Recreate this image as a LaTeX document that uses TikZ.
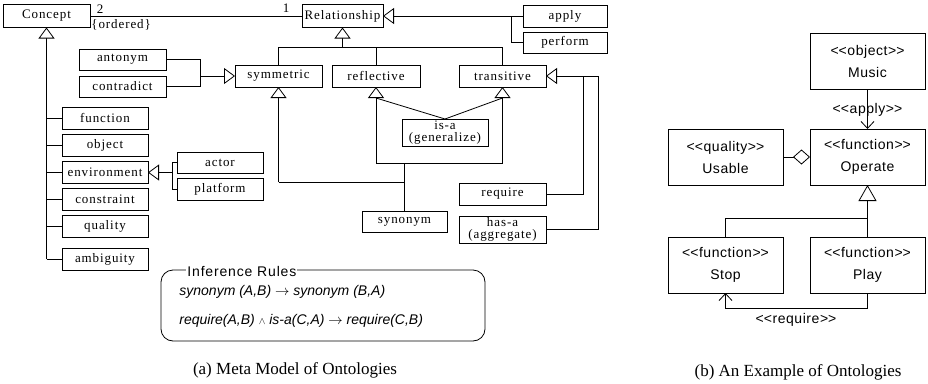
\documentclass[tikz,border=0pt]{standalone}
\usepackage{fontspec}
\setmainfont{Liberation Serif}
\newfontfamily\boxfont[LetterSpace=7]{Liberation Serif}
\newfontfamily\uisans[LetterSpace=4]{Liberation Sans}
\newfontfamily\rulesans{Liberation Sans}
\newfontfamily\titlesans[LetterSpace=6]{Liberation Sans}
\usetikzlibrary{arrows.meta,calc}

\newcommand\boxtext{\boxfont\fontsize{13}{12.5}\selectfont}
\newcommand\uitext{\uisans\fontsize{14}{22}\selectfont}
\newcommand\stereo[1]{<\kern0pt<#1>\kern0pt>}

\tikzset{
  cls/.style={draw, line width=0.8pt, inner sep=0pt, outer sep=0pt,
    font=\boxtext, align=center, minimum width=86pt, minimum height=22pt},
  ucls/.style={draw, line width=0.8pt, inner sep=0pt, outer sep=0pt,
    font=\uitext, align=center, minimum width=115pt, minimum height=56pt},
  gen/.style={-{Triangle[length=11pt,width=16pt,fill=white]}},
  biggen/.style={-{Triangle[length=16pt,width=18pt,fill=white]}},
  dep/.style={-{Straight Barb[length=7pt,width=13pt]}},
  agg/.style={-{Diamond[length=17pt,width=15pt,fill=white]}},
  caption/.style={font=\fontsize{17}{17}\selectfont},
}

\begin{document}
\begin{tikzpicture}[x=1pt,y=-1pt,line width=0.8pt]
\useasboundingbox (0,0) rectangle (928,383);

% ---------- meta model ----------
\node[cls, minimum width=87pt, minimum height=23pt] (concept) at (46.5,16) {Concept};
\node[cls, minimum width=81pt, minimum height=23pt] (relationship) at (342.5,16) {Relationship};
\node[cls, minimum width=84pt] (apply) at (565,16) {apply};
\node[cls, minimum width=84pt, minimum height=21pt] (perform) at (565,42.5) {perform};

\node[cls, minimum width=87pt, minimum height=21pt] (antonym) at (122.5,59.5) {antonym};
\node[cls, minimum width=87pt, minimum height=21pt] (contradict) at (122.5,86.5) {contradict};

\node[cls, minimum width=87pt] (symmetric) at (278.5,76) {symmetric};
\node[cls, minimum width=88pt] (reflective) at (376,76) {reflective};
\node[cls, minimum width=87pt] (transitive) at (502.5,76) {transitive};

\node[cls, minimum height=27pt] (isa) at (445,132.5) {is-a\\(generalize)};
\node[cls, minimum width=85pt, minimum height=21pt] (synonym) at (404.5,221.5) {synonym};
\node[cls, minimum width=87pt] (require) at (502.5,194) {require};
\node[cls, minimum width=87pt, minimum height=27pt] (hasa) at (502.5,229.5) {has-a\\(aggregate)};

\node[cls] (function) at (105,118) {function};
\node[cls] (object) at (105,145.5) {object};
\node[cls] (environment) at (105,172.5) {environment};
\node[cls] (constraint) at (105,199.5) {constraint};
\node[cls] (quality) at (105,226.5) {quality};
\node[cls] (ambiguity) at (105,259) {ambiguity};
\node[cls, minimum height=21pt] (actor) at (220,162.5) {actor};
\node[cls] (platform) at (220,189) {platform};

% association Concept -- Relationship
\draw (concept.east) -- (relationship.west);
\node[font=\boxtext] (m2) at (100,9) {2};
\node[font=\boxtext, anchor=west, inner sep=0pt] (ord) at (91,25) {\{ordered\}};
\node[font=\boxtext] (m1) at (286,8) {1};

% Concept generalisations
\coordinate (cj) at (46.5,0);
\draw[gen] (cj |- ambiguity.west) -- (concept.south);
\foreach \n in {function,object,environment,constraint,quality,ambiguity}
  \draw (cj |- \n.west) -- (\n.west);

% environment
\coordinate (ej) at (172,0);
\draw (actor.west) -| (ej |- platform.west) -- (platform.west);
\draw[gen] (ej |- environment.east) -- (environment.east);

% apply / perform
\coordinate (aj) at (511,0);
\draw[gen] (aj |- apply.west) -- (relationship.east);
\draw (apply.west) -- (aj |- apply.west) |- (perform.west);

% Relationship subtypes
\coordinate (rj) at (0,47);
\draw[gen] (relationship.south |- rj) -- (relationship.south);
\draw (symmetric.north) |- (transitive.north |- rj) -- (transitive.north);
\draw (reflective.north) -- (reflective.north |- rj);

% antonym / contradict
\coordinate (sj) at (200,0);
\draw (antonym.east) -| (sj |- contradict.east) -- (contradict.east);
\draw[gen] (sj |- symmetric.west) -- (symmetric.west);

% synonym
\coordinate (yj) at (0,182);
\coordinate (tj) at (0,163);
\draw[gen] (symmetric.south |- yj) -- (symmetric.south);
\draw (symmetric.south |- yj) -- (synonym.north |- yj);
\draw (isa.north) -- ([yshift=-11pt]reflective.south);
\draw (isa.north) -- ([yshift=-11pt]transitive.south);
\draw[gen] (reflective.south |- tj) -- (reflective.south);
\draw[gen] (transitive.south |- tj) -- (transitive.south);
\draw (reflective.south |- tj) -- (transitive.south |- tj);
\draw (synonym.north) -- (synonym.north |- tj);

% require / has-a
\coordinate (qj) at (583,0);
\coordinate (hj) at (598,0);
\draw[gen] (hj |- transitive.east) -- (transitive.east);
\draw (require.east) -| (qj |- transitive.east);
\draw (hasa.east) -| (hj |- transitive.east);

% inference rules
\node[draw, rounded corners=12pt, minimum width=324pt, minimum height=71pt,
      inner sep=0pt] (rules) at (323,305.5) {};
\node[fill=white, inner xsep=1pt, inner ysep=0pt, anchor=west,
      font=\titlesans\fontsize{14}{14}\selectfont] (rtitle) at (186,271) {Inference Rules};
\node[anchor=west, inner sep=0pt, font=\rulesans\itshape\fontsize{14}{14}\selectfont]
  (rule1) at (179,292) {synonym (A,B) $\rightarrow$ synonym (B,A)};
\node[anchor=west, inner sep=0pt, font=\rulesans\itshape\fontsize{14}{14}\selectfont]
  (rule2) at (179,321) {require(A,B) ${\scriptstyle\wedge}$ is-a(C,A) $\rightarrow$ require(C,B)};

\node[caption] (capa) at (295,370) {(a) Meta Model of Ontologies};

% ---------- example ----------
\node[ucls] (music) at (867.5,61) {\stereo{object}\\Music};
\node[ucls] (operate) at (867.5,157) {\stereo{function}\\Operate};
\node[ucls] (usable) at (725.5,157) {\stereo{quality}\\Usable};
\node[ucls] (stop) at (725.5,265) {\stereo{function}\\Stop};
\node[ucls] (play) at (867.5,265) {\stereo{function}\\Play};

\draw[dep] (music.south) -- (operate.north);
\node[font=\uitext] (lapply) at (867.5,110) {\stereo{apply}};
\draw[agg] (usable.east) -- (operate.west);

\coordinate (bj) at (0,218);
\draw[biggen] (play.north) -- (operate.south);
\draw (stop.north) |- (play.north |- bj);

\coordinate (dj) at (0,308);
\draw[dep] (play.south) |- (stop.south |- dj) -- (stop.south);
\node[font=\uitext] (lreq) at (796,320) {\stereo{require}};

\node[caption] (capb) at (798,372) {(b) An Example of Ontologies};
\end{tikzpicture}
\end{document}
